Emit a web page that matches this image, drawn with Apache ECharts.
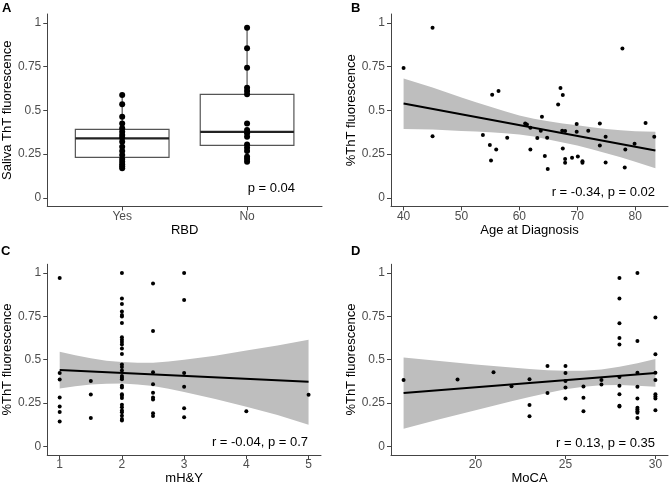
<!DOCTYPE html>
<html>
<head>
<meta charset="utf-8">
<script src="https://cdn.jsdelivr.net/npm/echarts@6/dist/echarts.min.js"></script>
<style>html,body{margin:0;padding:0;background:#fff}#c{width:669px;height:486px}</style>
</head>
<body>
<div id="c"></div>
<script>
// ---------- Panel A: RBD boxplot ----------
const rbdCategories = ['Yes', 'No'];
const rbdYes = [0.587,0.534,0.463,0.425,0.397,0.377,0.358,0.343,0.32,0.291,0.267,0.244,0.221,0.206,0.191,0.18,0.168];
const rbdNo = [0.971,0.854,0.743,0.629,0.61,0.591,0.425,0.387,0.368,0.349,0.305,0.286,0.267,0.234,0.221,0.206];
// [min, Q1, median, Q3, max]
const rbdBoxYes = [0.168,0.231,0.339,0.391,0.587];
const rbdBoxNo = [0.206,0.299,0.377,0.591,0.971];

// ---------- Panel B: Age at diagnosis ----------
const ageX = [40,45,45,53.7,54.9,55.1,55.3,56.0,56.4,57.9,61.0,61.3,61.9,61.9,63.1,63.7,63.9,64.4,64.8,64.9,66.7,67.1,67.5,67.4,67.5,67.9,67.9,67.9,69.1,69.9,69.9,70.1,70.9,70.9,71.9,73.9,73.9,74.9,74.9,77.8,78.3,78.2,79.9,81.8,83.3];
const ageY = [0.741,0.971,0.352,0.358,0.301,0.213,0.589,0.276,0.61,0.343,0.425,0.418,0.40,0.276,0.341,0.383,0.463,0.238,0.343,0.164,0.533,0.627,0.587,0.383,0.282,0.381,0.221,0.20,0.229,0.421,0.377,0.236,0.208,0.20,0.383,0.425,0.299,0.349,0.202,0.853,0.276,0.173,0.309,0.427,0.349];
const ageFitX = [40, 83.5];
const ageFitY = [0.539, 0.270];
const ageBandX = [40,42.5,45,47.5,50,52.5,55,57.5,60,62.5,65,67.5,70,72.5,75,77.5,80,83.5];
const ageBandUpper = [0.682,0.656,0.630,0.602,0.573,0.546,0.520,0.494,0.470,0.452,0.437,0.425,0.414,0.403,0.393,0.386,0.380,0.377];
const ageBandLower = [0.393,0.392,0.390,0.386,0.381,0.378,0.374,0.369,0.362,0.350,0.333,0.316,0.298,0.277,0.255,0.231,0.206,0.168];

// ---------- Panel C: mH&Y ----------
const mhyX = [1,1,1,1,1,1,1, 1.5,1.5,1.5,
  2,2,2,2,2,2,2,2,2,2,2,2,2,2,2,2,2,2,2,2,2,2,2,2,2,2,2,2,2,2,2,
  2.5,2.5,2.5,2.5,2.5,2.5,2.5,2.5,2.5, 3,3,3,3,3,3, 4, 5];
const mhyY = [0.971,0.423,0.385,0.282,0.23,0.198,0.143, 0.377,0.299,0.164,
  1.0,0.853,0.821,0.777,0.758,0.749,0.711,0.629,0.615,0.602,0.587,0.564,0.533,0.472,0.457,0.438,0.406,0.396,0.387,0.349,0.339,0.301,0.291,0.278,0.240,0.225,0.206,0.196,0.177,0.158,0.149,
  0.939,0.665,0.427,0.358,0.309,0.282,0.270,0.191,0.175, 1.0,0.844,0.423,0.343,0.22,0.167, 0.202, 0.297];
const mhyFitX = [1, 5];
const mhyFitY = [0.440, 0.373];
const mhyBandX = [1,1.25,1.5,1.75,2,2.25,2.5,2.75,3,3.5,4,4.5,5];
const mhyBandUpper = [0.546,0.525,0.508,0.494,0.486,0.482,0.482,0.489,0.500,0.523,0.552,0.581,0.615];
const mhyBandLower = [0.334,0.346,0.356,0.361,0.362,0.357,0.348,0.332,0.314,0.273,0.228,0.181,0.125];

// ---------- Panel D: MoCA ----------
const mocaX = [16,19,21,22,23,23,23, 24,24, 25,25,25,25,25, 26,26,26, 27,27,
  28,28,28,28,28,28,28,28,28,28, 29,29,29,29,29,29,29,29,29,29, 30,30,30,30,30,30,30,30];
const mocaY = [0.383,0.385,0.427,0.347,0.387,0.238,0.173, 0.463,0.307, 0.463,0.423,0.377,0.339,0.276, 0.345,0.28,0.202, 0.383,0.356,
  0.971,0.853,0.71,0.625,0.587,0.40,0.349,0.301,0.234,0.229, 1.0,0.608,0.425,0.343,0.276,0.223,0.212,0.202,0.194,0.163, 0.743,0.531,0.425,0.383,0.301,0.288,0.276,0.208];
const mocaFitX = [16, 30];
const mocaFitY = [0.307, 0.423];
const mocaBandX = [16,17,18,19,20,21,22,23,24,25,26,27,28,29,30];
const mocaBandUpper = [0.512,0.502,0.492,0.482,0.472,0.463,0.454,0.446,0.439,0.436,0.436,0.443,0.459,0.479,0.503];
const mocaBandLower = [0.102,0.129,0.156,0.182,0.208,0.234,0.260,0.285,0.308,0.329,0.344,0.352,0.353,0.349,0.343];

// ---------- tick labels ----------
const yTicks = [0, 0.25, 0.5, 0.75, 1];
const ageTicks = [40, 50, 60, 70, 80];
const mhyTicks = [1, 2, 3, 4, 5];
const mocaTicks = [20, 25, 30];

const FONT = 'Liberation Sans, Arial, Helvetica, sans-serif';
const AXIS_COLOR = '#444';
const LABEL_COLOR = '#4d4d4d';
const BAND_COLOR = '#bebebe';

const zip = (xs, ys) => xs.map((x, i) => [x, ys[i]]);

function xAxisCfg(gi, min, max, ticks, name, fmt) {
  return {
    type: 'value', gridIndex: gi, min, max, name,
    nameLocation: 'middle', nameGap: 17,
    nameTextStyle: { color: '#000', fontSize: 13, fontFamily: FONT },
    axisLine: { show: true, onZero: false, lineStyle: { color: AXIS_COLOR, width: 1 } },
    axisTick: { show: true, length: 4, customValues: ticks, lineStyle: { color: AXIS_COLOR } },
    axisLabel: { customValues: ticks, color: LABEL_COLOR, fontSize: 12, fontFamily: FONT, margin: 4,
      formatter: fmt || (v => String(v)) },
    splitLine: { show: false }
  };
}
function yAxisCfg(gi, name, gap) {
  return {
    type: 'value', gridIndex: gi, min: -0.05, max: 1.05, name,
    nameLocation: 'middle', nameGap: gap,
    nameTextStyle: { color: '#000', fontSize: 13, fontFamily: FONT },
    axisLine: { show: true, onZero: false, lineStyle: { color: AXIS_COLOR, width: 1 } },
    axisTick: { show: true, length: 4, customValues: yTicks, lineStyle: { color: AXIS_COLOR } },
    axisLabel: { customValues: yTicks, color: LABEL_COLOR, fontSize: 12, fontFamily: FONT, margin: 6,
      formatter: v => (v === 0 ? '0' : String(v)) },
    splitLine: { show: false }
  };
}
// confidence band: polygon through upper edge then lower edge, via axis coordinates
function bandSeries(idx, xs, lo, hi) {
  return {
    type: 'custom', xAxisIndex: idx, yAxisIndex: idx, z: 1, silent: true,
    data: xs.map((x, i) => [x, lo[i], hi[i]]),
    encode: { x: 0, y: [1, 2] },
    renderItem: function (params, api) {
      if (params.dataIndex !== 0) return null;
      const pts = [];
      for (let i = 0; i < xs.length; i++) pts.push(api.coord([xs[i], hi[i]]));
      for (let i = xs.length - 1; i >= 0; i--) pts.push(api.coord([xs[i], lo[i]]));
      return { type: 'polygon', shape: { points: pts }, style: { fill: BAND_COLOR } };
    }
  };
}
function pointSeries(idx, xs, ys, size) {
  return { type: 'scatter', xAxisIndex: idx, yAxisIndex: idx, symbolSize: size,
    itemStyle: { color: '#000', opacity: 1 }, data: zip(xs, ys), z: 3 };
}
function fitSeries(idx, xs, ys) {
  return { type: 'line', xAxisIndex: idx, yAxisIndex: idx, symbol: 'none',
    lineStyle: { color: '#000', width: 2 }, data: zip(xs, ys), z: 4 };
}

const boxData = [[1].concat(rbdBoxYes), [2].concat(rbdBoxNo)];

const chart = echarts.init(document.getElementById('c'), null, { renderer: 'canvas' });
chart.setOption({
  animation: false,
  backgroundColor: '#fff',
  grid: [
    { left: 45, top: 14, width: 277, height: 192.5 },
    { left: 391, top: 14, width: 277, height: 192.5 },
    { left: 45, top: 264.25, width: 276, height: 192.5 },
    { left: 391, top: 264.25, width: 277, height: 192.5 }
  ],
  xAxis: [
    xAxisCfg(0, 0.4, 2.6, [1, 2], 'RBD', v => rbdCategories[Math.round(v) - 1]),
    xAxisCfg(1, 37.825, 85.675, ageTicks, 'Age at Diagnosis'),
    xAxisCfg(2, 0.8, 5.2, mhyTicks, 'mH&Y'),
    xAxisCfg(3, 15.3, 30.7, mocaTicks, 'MoCA')
  ],
  yAxis: [
    yAxisCfg(0, 'Saliva ThT fluorescence', 30),
    yAxisCfg(1, '%ThT fluorescence', 25),
    yAxisCfg(2, '%ThT fluorescence', 28),
    yAxisCfg(3, '%ThT fluorescence', 25)
  ],
  series: [
    {
      type: 'custom', xAxisIndex: 0, yAxisIndex: 0, z: 2,
      data: boxData,
      encode: { x: 0, y: [1, 2, 3, 4, 5] },
      renderItem: function (params, api) {
        const x = api.value(0);
        const half = api.size([0.375, 0])[0];
        const pMin = api.coord([x, api.value(1)]);
        const pQ1 = api.coord([x, api.value(2)]);
        const pMed = api.coord([x, api.value(3)]);
        const pQ3 = api.coord([x, api.value(4)]);
        const pMax = api.coord([x, api.value(5)]);
        const stroke = '#555';
        return {
          type: 'group',
          children: [
            { type: 'line', shape: { x1: pMin[0], y1: pMin[1], x2: pQ1[0], y2: pQ1[1] }, style: { stroke, lineWidth: 1.2 } },
            { type: 'line', shape: { x1: pQ3[0], y1: pQ3[1], x2: pMax[0], y2: pMax[1] }, style: { stroke, lineWidth: 1.2 } },
            { type: 'rect', shape: { x: pQ3[0] - half, y: pQ3[1], width: 2 * half, height: pQ1[1] - pQ3[1] },
              style: { fill: '#fff', stroke, lineWidth: 1.2 } },
            { type: 'line', shape: { x1: pMed[0] - half, y1: pMed[1], x2: pMed[0] + half, y2: pMed[1] },
              style: { stroke: '#222', lineWidth: 2.2 } }
          ]
        };
      }
    },
    pointSeries(0, rbdYes.map(() => 1), rbdYes, 6),
    pointSeries(0, rbdNo.map(() => 2), rbdNo, 6),
    bandSeries(1, ageBandX, ageBandLower, ageBandUpper),
    pointSeries(1, ageX, ageY, 4),
    fitSeries(1, ageFitX, ageFitY),
    bandSeries(2, mhyBandX, mhyBandLower, mhyBandUpper),
    pointSeries(2, mhyX, mhyY, 4),
    fitSeries(2, mhyFitX, mhyFitY),
    bandSeries(3, mocaBandX, mocaBandLower, mocaBandUpper),
    pointSeries(3, mocaX, mocaY, 4),
    fitSeries(3, mocaFitX, mocaFitY)
  ],
  graphic: [
    { type: 'text', left: 2, top: 2, style: { text: 'A', font: 'bold 13px ' + FONT, fill: '#000' } },
    { type: 'text', left: 351, top: 2, style: { text: 'B', font: 'bold 13px ' + FONT, fill: '#000' } },
    { type: 'text', left: 1, top: 245, style: { text: 'C', font: 'bold 13px ' + FONT, fill: '#000' } },
    { type: 'text', left: 351, top: 245, style: { text: 'D', font: 'bold 13px ' + FONT, fill: '#000' } },
    { type: 'text', x: 295, y: 188, style: { text: 'p = 0.04', font: '13px ' + FONT, fill: '#000', align: 'right', verticalAlign: 'middle' } },
    { type: 'text', x: 655, y: 192, style: { text: 'r = -0.34, p = 0.02', font: '13px ' + FONT, fill: '#000', align: 'right', verticalAlign: 'middle' } },
    { type: 'text', x: 308, y: 442.5, style: { text: 'r = -0.04, p = 0.7', font: '13px ' + FONT, fill: '#000', align: 'right', verticalAlign: 'middle' } },
    { type: 'text', x: 655, y: 443, style: { text: 'r = 0.13, p = 0.35', font: '13px ' + FONT, fill: '#000', align: 'right', verticalAlign: 'middle' } }
  ]
});
</script>
</body>
</html>
